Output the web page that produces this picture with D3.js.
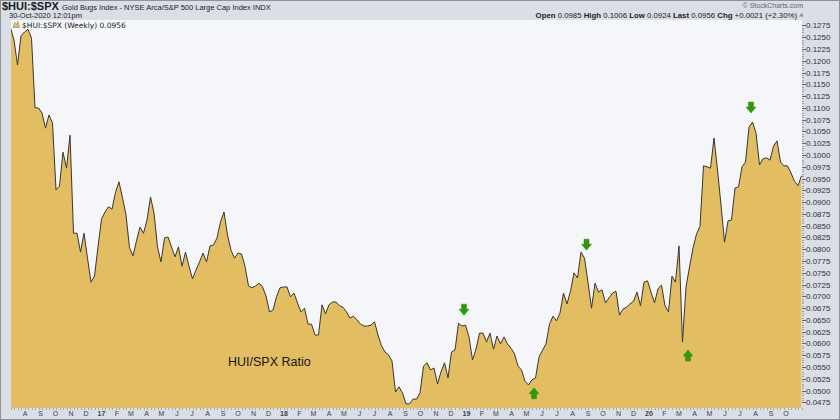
<!DOCTYPE html>
<html>
<head>
<meta charset="utf-8">
<script src="https://cdn.jsdelivr.net/npm/d3@7/dist/d3.min.js"></script>
<style>
	body { margin: 0; background: #fff; }
	svg { display: block; font-family: "Liberation Sans", Arial, sans-serif; }
</style>
</head>
<body>
<script>
// Weekly closes of $HUI:$SPX, first week ending 1-Jul-2016, last 30-Oct-2020
var startDate = new Date(2016, 6, 1);

var ratio = [
	0.1270, 0.1244, 0.1191, 0.1253, 0.1261, 0.1267, 0.1248, 0.1100, 0.1100, 0.1089,
	0.1057, 0.1085, 0.1068, 0.0926, 0.0934, 0.1006, 0.0972, 0.1042, 0.0834, 0.0834,
	0.0794, 0.0834, 0.0781, 0.0730, 0.0743, 0.0805, 0.0864, 0.0879, 0.0890, 0.0885,
	0.0921, 0.0943, 0.0909, 0.0873, 0.0803, 0.0786, 0.0818, 0.0847, 0.0834, 0.0862,
	0.0911, 0.0877, 0.0805, 0.0773, 0.0824, 0.0826, 0.0805, 0.0784, 0.0805, 0.0764,
	0.0794, 0.0764, 0.0737, 0.0756, 0.0773, 0.0792, 0.0773, 0.0807, 0.0809, 0.0824,
	0.0858, 0.0879, 0.0830, 0.0798, 0.0781, 0.0792, 0.0790, 0.0764, 0.0722, 0.0718,
	0.0722, 0.0728, 0.0720, 0.0701, 0.0667, 0.0671, 0.0699, 0.0718, 0.0720, 0.0720,
	0.0699, 0.0707, 0.0686, 0.0667, 0.0675, 0.0641, 0.0641, 0.0618, 0.0618, 0.0682,
	0.0663, 0.0682, 0.0688, 0.0688, 0.0680, 0.0677, 0.0667, 0.0654, 0.0658, 0.0650,
	0.0641, 0.0637, 0.0637, 0.0639, 0.0646, 0.0618, 0.0595, 0.0582, 0.0576, 0.0563,
	0.0497, 0.0508, 0.0495, 0.0472, 0.0472, 0.0482, 0.0482, 0.0495, 0.0552, 0.0559,
	0.0544, 0.0548, 0.0514, 0.0540, 0.0559, 0.0527, 0.0582, 0.0586, 0.0643, 0.0637,
	0.0639, 0.0614, 0.0565, 0.0588, 0.0622, 0.0622, 0.0603, 0.0622, 0.0588, 0.0616,
	0.0599, 0.0614, 0.0599, 0.0590, 0.0578, 0.0552, 0.0544, 0.0520, 0.0512, 0.0523,
	0.0527, 0.0571, 0.0586, 0.0599, 0.0641, 0.0658, 0.0648, 0.0665, 0.0707, 0.0684,
	0.0711, 0.0750, 0.0739, 0.0794, 0.0781, 0.0730, 0.0675, 0.0728, 0.0709, 0.0714,
	0.0686, 0.0697, 0.0707, 0.0711, 0.0660, 0.0673, 0.0677, 0.0684, 0.0690, 0.0709,
	0.0680, 0.0730, 0.0733, 0.0709, 0.0686, 0.0716, 0.0724, 0.0680, 0.0667, 0.0743,
	0.0730, 0.0807, 0.0603, 0.0720, 0.0762, 0.0803, 0.0832, 0.0849, 0.0977, 0.0975,
	0.0972, 0.1036, 0.0968, 0.0894, 0.0815, 0.0860, 0.0862, 0.0930, 0.0932, 0.0975,
	0.0985, 0.1059, 0.1070, 0.1047, 0.0979, 0.0992, 0.0994, 0.0989, 0.1019, 0.1030,
	0.0985, 0.0977, 0.0977, 0.0962, 0.0944, 0.0935, 0.0956
];

// Green marker arrows: week index, value at the arrow tip, direction
var arrowWeeks = [129, 164, 211, 149, 193];
var arrowTips = [0.0660, 0.0798, 0.1089, 0.0506, 0.0586];
var arrowDirs = ["down", "down", "down", "up", "up"];

// Right axis tick labels
var yTicks = [0.0475, 0.0500, 0.0525, 0.0550, 0.0575, 0.0600, 0.0625, 0.0650, 0.0675,
	0.0700, 0.0725, 0.0750, 0.0775, 0.0800, 0.0825, 0.0850, 0.0875, 0.0900, 0.0925,
	0.0950, 0.0975, 0.1000, 0.1025, 0.1050, 0.1075, 0.1100, 0.1125, 0.1150, 0.1175,
	0.1200, 0.1225, 0.1250, 0.1275];

var monthLetters = ["J", "F", "M", "A", "M", "J", "J", "A", "S", "O", "N", "D"];

var quote = [["Open", "0.0985"], ["High", "0.1006"], ["Low", "0.0924"], ["Last", "0.0956"], ["Chg", "+0.0021 (+2.30%)"]];

var dates = ratio.map(function(d, i) { return d3.timeDay.offset(startDate, 7 * i); });

/*
 * Bounds.
 */
var width = 840,
	height = 420,
	plot = { left: 11, right: 802, top: 20, bottom: 408 };

var svg = d3.select("body").append("svg")
	.attr("width", width)
	.attr("height", height);

// frame
svg.append("rect")
	.attr("x", 0.5).attr("y", 0.5)
	.attr("width", width - 1).attr("height", height - 1)
	.attr("fill", "#dadee6")
	.attr("stroke", "#8d929b");

svg.append("rect")
	.attr("x", plot.left).attr("y", plot.top)
	.attr("width", plot.right - plot.left).attr("height", plot.bottom - plot.top)
	.attr("fill", "#f4f6fa");

/*
 * Scales.
 */
var x = d3.scaleTime()
	.domain([dates[0], dates[dates.length - 1]])
	.range([10.5, 801.5]);

var y = d3.scaleLinear()
	.domain([0.04631, 0.12865])
	.range([plot.bottom, plot.top]);

svg.append("clipPath")
	.attr("id", "clip")
	.append("rect")
	.attr("x", plot.left).attr("y", plot.top)
	.attr("width", plot.right - plot.left).attr("height", plot.bottom - plot.top);

var area = d3.area()
	.x(function(d, i) { return x(dates[i]); })
	.y0(plot.bottom)
	.y1(function(d) { return y(d); });

var line = d3.line()
	.x(function(d, i) { return x(dates[i]); })
	.y(function(d) { return y(d); });

var g = svg.append("g").attr("clip-path", "url(#clip)");

g.append("path")
	.datum(ratio)
	.attr("d", area)
	.attr("fill", "#e2bd62");

g.append("path")
	.datum(ratio)
	.attr("d", line)
	.attr("fill", "none")
	.attr("stroke", "#3a3530")
	.attr("stroke-width", 1)
	.attr("stroke-linejoin", "round");

/*
 * Arrows.
 */
arrowWeeks.forEach(function(w, k) {
	var ax = x(dates[w]) + 2,
		ay = y(arrowTips[k]),
		s = arrowDirs[k] == "down" ? 1 : -1;
	var p = "M" + (ax - 2.5) + "," + (ay - 11 * s) +
		"h5v" + (5 * s) + "h2.5l-5," + (6 * s) + "l-5," + (-6 * s) + "h2.5z";
	svg.append("path")
		.attr("d", p)
		.attr("fill", "#2f9a08")
		.attr("stroke", "#2a8a06")
		.attr("stroke-width", 0.5);
});

svg.append("text")
	.attr("x", 228).attr("y", 366)
	.attr("font-size", 12.5)
	.attr("fill", "#151515")
	.text("HUI/SPX Ratio");

/*
 * Right axis.
 */
var yAxis = svg.append("g").attr("font-size", 8).attr("fill", "#333");

yAxis.selectAll("line.minor")
	.data(d3.range(0, yTicks.length * 5 - 4))
	.enter().append("line")
	.attr("x1", plot.right).attr("x2", plot.right + 2)
	.attr("y1", function(d) { return Math.round(y(yTicks[0] + d * 0.0005)) + 0.5; })
	.attr("y2", function(d) { return Math.round(y(yTicks[0] + d * 0.0005)) + 0.5; })
	.attr("stroke", "#9aa0aa");

yAxis.selectAll("line.major")
	.data(yTicks)
	.enter().append("line")
	.attr("x1", plot.right).attr("x2", plot.right + 4)
	.attr("y1", function(d) { return Math.round(y(d)) + 0.5; })
	.attr("y2", function(d) { return Math.round(y(d)) + 0.5; })
	.attr("stroke", "#666");

yAxis.selectAll("text")
	.data(yTicks)
	.enter().append("text")
	.attr("x", plot.right + 4)
	.attr("y", function(d) { return y(d) + 3; })
	.text(function(d) { return d.toFixed(4); });

/*
 * Bottom axis.
 */
svg.selectAll("line.week")
	.data(dates)
	.enter().append("line")
	.attr("x1", function(d) { return Math.round(x(d)) + 0.5; })
	.attr("x2", function(d) { return Math.round(x(d)) + 0.5; })
	.attr("y1", plot.bottom).attr("y2", plot.bottom + 2)
	.attr("stroke", "#a3a8b1");

// month labels from the first full month after the start
var months = d3.timeMonth.range(d3.timeMonth.offset(dates[0], 1), dates[dates.length - 1]);

svg.selectAll("text.month")
	.data(months)
	.enter().append("text")
	.attr("x", function(d) { return x(d) - 1; })
	.attr("y", 416)
	.attr("text-anchor", "middle")
	.attr("font-size", 7)
	.attr("font-weight", function(d) { return d.getMonth() == 0 ? "bold" : "normal"; })
	.attr("fill", "#3a3f48")
	.text(function(d) { return d.getMonth() == 0 ? String(d.getFullYear()).slice(2) : monthLetters[d.getMonth()]; });

/*
 * Header.
 */
svg.append("text")
	.attr("x", 2).attr("y", 10)
	.attr("font-size", 11).attr("font-weight", "bold").attr("fill", "#1a1a1a")
	.text("$HUI:$SPX");

svg.append("text")
	.attr("x", 62).attr("y", 9.5)
	.attr("font-size", 7.5).attr("fill", "#222")
	.text("Gold Bugs Index - NYSE Arca/S&P 500 Large Cap Index  INDX");

svg.append("text")
	.attr("x", 9).attr("y", 17.5)
	.attr("font-size", 7.5).attr("fill", "#222")
	.text("30-Oct-2020 12:01pm");

svg.append("text")
	.attr("x", 803).attr("y", 8)
	.attr("text-anchor", "end")
	.attr("font-size", 7).attr("fill", "#666")
	.text("\u00a9 StockCharts.com");

var q = svg.append("text")
	.attr("x", 797).attr("y", 17.5)
	.attr("text-anchor", "end")
	.attr("font-size", 7.8).attr("fill", "#222");

quote.forEach(function(d, i) {
	q.append("tspan").attr("font-weight", "bold").text((i ? "  " : "") + d[0] + " ");
	q.append("tspan").text(d[1]);
});

svg.append("path")
	.attr("d", "M799,16.5l2.5,-3.5l2.5,3.5z")
	.attr("fill", "#8a8f99");

/*
 * Legend.
 */
svg.append("path")
	.attr("d", "M13,27.5l2,-5l1.5,2l1.5,-3l1.5,6z")
	.attr("fill", "#e2bd62")
	.attr("stroke", "#7a6a40")
	.attr("stroke-width", 0.5);

svg.append("text")
	.attr("x", 22).attr("y", 27.5)
	.attr("font-family", "DejaVu Sans")
	.attr("font-size", 7.5).attr("fill", "#222")
	.text("$HUI:$SPX (Weekly) 0.0956");
</script>
</body>
</html>
